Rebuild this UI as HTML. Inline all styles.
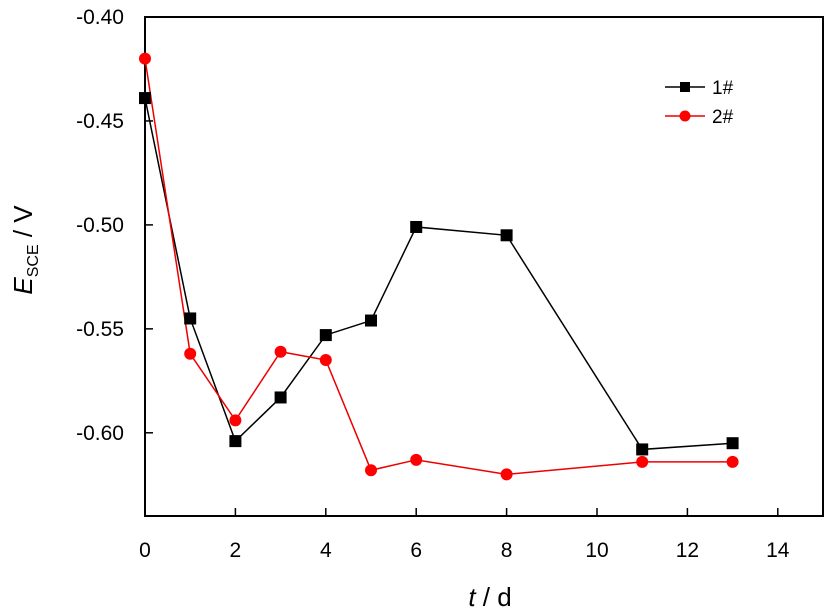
<!DOCTYPE html>
<html><head><meta charset="utf-8"><style>body{margin:0;background:#fff}svg{display:block;font-family:"Liberation Sans",Arial,sans-serif}</style></head>
<body>
<svg id="s" width="827" height="611" xmlns="http://www.w3.org/2000/svg">
<rect x="145" y="17" width="678" height="499" fill="none" stroke="#000" stroke-width="2"/>
<g id="ax" font-size="21" fill="#000"></g>
<text x="490" y="606" font-size="26" text-anchor="middle"><tspan font-style="italic">t</tspan> / d</text>
<text transform="translate(32,250) rotate(-90)" font-size="26" text-anchor="middle"><tspan font-style="italic">E</tspan><tspan font-size="16" dy="6">SCE</tspan><tspan dy="-6"> / V</tspan></text>
<g id="d"></g>
<line x1="665" y1="87" x2="705" y2="87" stroke="#000" stroke-width="1.5"/><rect x="680" y="82" width="10" height="10" fill="#000"/>
<text x="712" y="94" font-size="19">1#</text>
<line x1="665" y1="116" x2="705" y2="116" stroke="#e00" stroke-width="1.5"/><circle cx="685" cy="116" r="5.5" fill="#f00"/>
<text x="712" y="123" font-size="19">2#</text>
</svg>
<script>
const NS="http://www.w3.org/2000/svg",X=v=>145+v*45.2,Y=v=>17+(-0.40-v)*2079;
function el(t,a,p){const e=document.createElementNS(NS,t);for(const k in a)e.setAttribute(k,a[k]);p.appendChild(e);return e;}
const ax=document.getElementById('ax'),d=document.getElementById('d');
for(let i=0;i<=14;i+=2){const x=X(i);if(i>0)el('line',{x1:x,y1:516,x2:x,y2:508,stroke:'#000','stroke-width':1.5},ax);el('text',{x:x,y:557,'text-anchor':'middle'},ax).textContent=i;}
['-0.40','-0.45','-0.50','-0.55','-0.60'].forEach(s=>{const y=Y(+s);if(s!='-0.40')el('line',{x1:145,y1:y,x2:153,y2:y,stroke:'#000','stroke-width':1.5},ax);el('text',{x:124,y:y+7,'text-anchor':'end'},ax).textContent=s;});
const xs=[0,1,2,3,4,5,6,8,11,13];
const a=[-0.439,-0.545,-0.604,-0.583,-0.553,-0.546,-0.501,-0.505,-0.608,-0.605];
const b=[-0.420,-0.562,-0.594,-0.561,-0.565,-0.618,-0.613,-0.620,-0.614,-0.614];
el('polyline',{points:xs.map((x,i)=>X(x)+','+Y(a[i])).join(' '),fill:'none',stroke:'#000','stroke-width':1.5},d);
el('polyline',{points:xs.map((x,i)=>X(x)+','+Y(b[i])).join(' '),fill:'none',stroke:'#e00','stroke-width':1.5},d);
xs.forEach((x,i)=>{el('rect',{x:X(x)-6,y:Y(a[i])-6,width:12,height:12,fill:'#000'},d);});
xs.forEach((x,i)=>{el('circle',{cx:X(x),cy:Y(b[i]),r:6,fill:'#f00'},d);});
</script>
</body></html>
